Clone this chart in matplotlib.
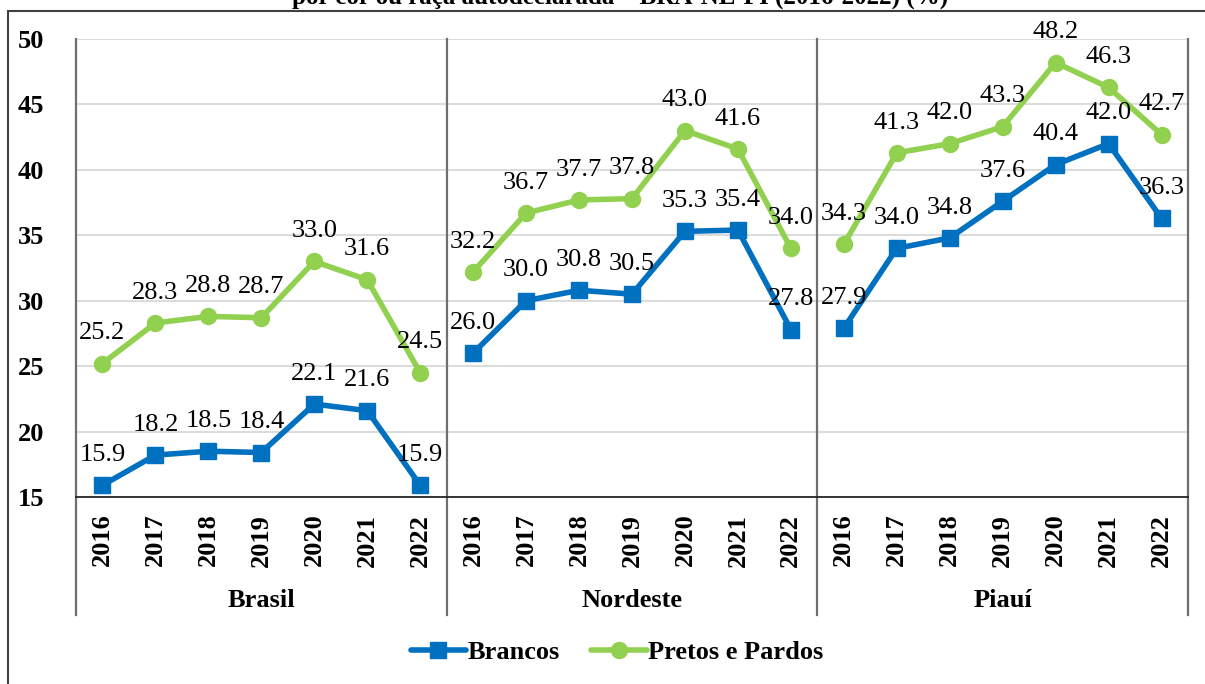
import numpy as np
import matplotlib.pyplot as plt
from matplotlib.lines import Line2D
from matplotlib.patches import Rectangle

plt.rcParams['font.family'] = ['Liberation Serif', 'DejaVu Serif']

# data
regions = ['Brasil', 'Nordeste', 'Piauí']
years = ['2016', '2017', '2018', '2019', '2020', '2021', '2022']
brancos = {
    'Brasil': [15.9, 18.2, 18.5, 18.4, 22.1, 21.6, 15.9],
    'Nordeste': [26.0, 30.0, 30.8, 30.5, 35.3, 35.4, 27.8],
    'Piauí': [27.9, 34.0, 34.8, 37.6, 40.4, 42.0, 36.3],
}
pretos_pardos = {
    'Brasil': [25.2, 28.3, 28.8, 28.7, 33.0, 31.6, 24.5],
    'Nordeste': [32.2, 36.7, 37.7, 37.8, 43.0, 41.6, 34.0],
    'Piauí': [34.3, 41.3, 42.0, 43.3, 48.2, 46.3, 42.7],
}
title = 'por cor ou raça autodeclarada – BRA-NE-PI (2016-2022) (%)'

blue = '#0070C0'
green = '#92D050'
fs = 19

fig = plt.figure(figsize=(12.05, 6.84), dpi=100)
ax = fig.add_axes([76 / 1205, 1 - 497 / 684, (1188 - 76) / 1205, (497 - 39) / 684])

# outer border (cut off on right/bottom like the reference)
fig.patches.append(Rectangle((8 / 1205, -0.1), 1.2, 1 - 11 / 684 + 0.1,
                             transform=fig.transFigure, fill=False,
                             edgecolor='#404040', lw=1.5))
fig.text(620 / 1205, 1 - 4 / 684, title, ha='center', va='baseline',
         fontsize=18, fontweight='bold')

n = len(years)
for g, reg in enumerate(regions):
    x = np.arange(n) + g * n
    for vals, col, mk, ms in [(brancos[reg], blue, 's', 12),
                              (pretos_pardos[reg], green, 'o', 11.5)]:
        ax.plot(x, vals, color=col, lw=4, marker=mk, markersize=ms,
                solid_capstyle='round', zorder=3, clip_on=False)
        for xi, v in zip(x, vals):
            ax.annotate(f'{v:.1f}', (xi, v), xytext=(0, 17.5),
                        textcoords='offset points', ha='center',
                        va='baseline', fontsize=fs, zorder=4)

ax.set_xlim(-0.5, 3 * n - 0.5)
ax.set_ylim(15, 50)
ax.set_yticks(range(15, 51, 5))
ax.yaxis.grid(True, color='#D9D9D9', lw=1.3)
ax.set_axisbelow(True)
ax.tick_params(axis='y', length=0, pad=23, labelsize=fs)
for lab in ax.get_yticklabels():
    lab.set_fontweight('bold')

ax.set_xticks(np.arange(3 * n))
ax.set_xticklabels(years * 3, rotation=90, fontsize=fs, fontweight='bold')
ax.tick_params(axis='x', length=0, pad=12)

for s in ['top', 'right']:
    ax.spines[s].set_visible(False)
ax.spines['left'].set_visible(False)
ax.spines['bottom'].set_color('#262626')
ax.spines['bottom'].set_linewidth(1.3)

# group separators and boundary lines extending below axis
trans = ax.get_xaxis_transform()
for xs in [-0.5, n - 0.5, 2 * n - 0.5, 3 * n - 0.5]:
    ax.plot([xs, xs], [-0.2576, 1], transform=trans, color='#6F6F6F',
            lw=1.6, clip_on=False, zorder=2)
for g, reg in enumerate(regions):
    ax.text(g * n + (n - 1) / 2, -0.225, reg, transform=trans, ha='center',
            va='center', fontsize=fs, fontweight='bold')

handles = [
    Line2D([], [], color=blue, lw=4, marker='s', markersize=12, solid_capstyle='round'),
    Line2D([], [], color=green, lw=4, marker='o', markersize=11.5, solid_capstyle='round'),
]
fig.legend(handles, ['Brancos', 'Pretos e Pardos'], loc='center',
           bbox_to_anchor=(617 / 1205, 1 - 652 / 684), ncol=2, frameon=False,
           prop={'size': fs, 'weight': 'bold'}, handlelength=2.1,
           handletextpad=0.05, columnspacing=1.2)

fig.savefig('out.png', dpi=100)
